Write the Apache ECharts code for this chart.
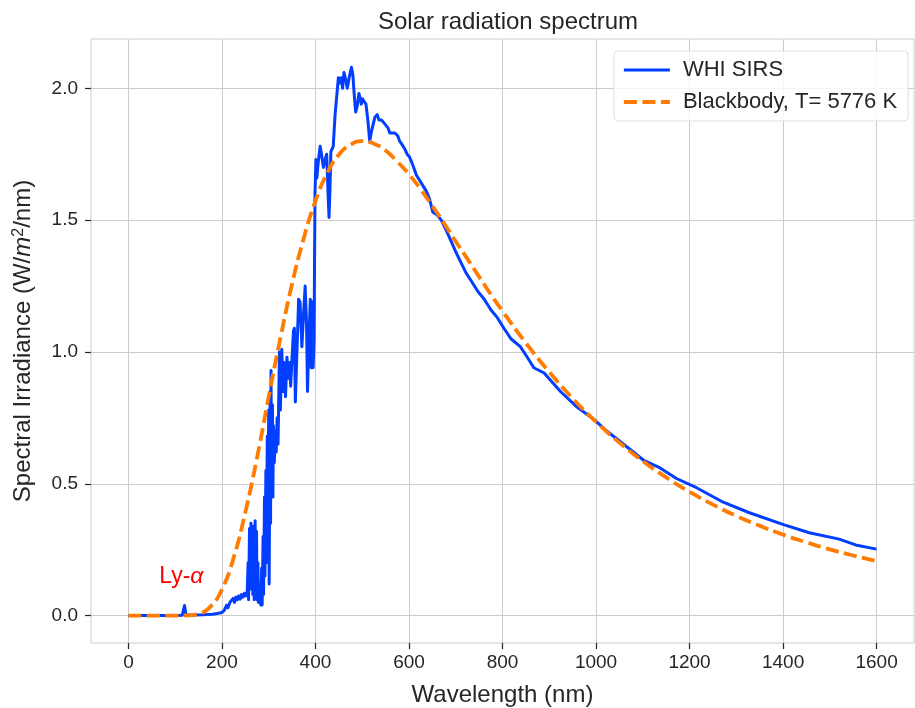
<!DOCTYPE html>
<html>
<head>
<meta charset="utf-8">
<script src="https://cdn.jsdelivr.net/npm/echarts@6/dist/echarts.min.js"></script>
<style>
html,body{margin:0;padding:0;background:#ffffff;}
#chart{width:915px;height:708px;}
</style>
</head>
<body>
<div id="chart"></div>
<script>
// Axis ticks
const xTicks = [0, 200, 400, 600, 800, 1000, 1200, 1400, 1600];
const yTicks = [0, 0.5, 1.0, 1.5, 2.0];

// Measured solar spectral irradiance (WHI SIRS), wavelength in nm
const whiNm = [
  0, 50, 100, 115, 119, 120, 122, 123, 140, 160, 180, 190, 200, 205, 210, 213, 217, 220,
  224, 227, 230, 233, 236, 239, 242, 245, 248, 251, 254, 256, 257, 259, 260, 262, 263, 265,
  266, 268, 269, 271, 272, 274, 275, 277, 278, 280, 282, 283, 285, 286, 288, 289, 291, 292,
  294, 295, 297, 298, 300, 301, 303, 304, 305, 306, 308, 309, 310, 312, 314, 316, 318, 320,
  323, 325, 328, 331, 333, 336, 339, 342, 345, 347, 350, 353, 355, 357, 360, 364, 367, 371,
  375, 378, 381, 383, 386, 389, 391, 393, 395, 397, 399, 401, 403, 406, 410, 413, 417, 421,
  424, 427, 429, 431, 433, 438, 442, 446, 449, 452, 455, 458, 461, 465, 468, 472, 477, 480,
  482, 484, 486, 489, 493, 496, 498, 501, 504, 508, 512, 516, 519, 523, 527, 532, 536, 541,
  546, 550, 555, 559, 565, 570, 576, 580, 584, 591, 596, 601, 608, 616, 623, 630, 637, 644,
  651, 660, 669, 680, 690, 700, 711, 722, 733, 747, 761, 775, 789, 803, 818, 838, 853, 867,
  889, 924, 960, 995, 1023, 1059, 1101, 1137, 1172, 1215, 1272, 1328, 1401, 1456, 1520, 1555, 1600
];
const whiVal = [
  0, 0, 0, 0.001, 0.001, 0.038, 0.038, 0.002, 0.002, 0.003, 0.005, 0.008, 0.012, 0.02, 0.04, 0.03, 0.05, 0.045,
  0.065, 0.05, 0.07, 0.06, 0.075, 0.062, 0.08, 0.07, 0.085, 0.075, 0.09, 0.2, 0.06, 0.33, 0.1, 0.35, 0.12, 0.3,
  0.08, 0.34, 0.06, 0.36, 0.1, 0.32, 0.06, 0.2, 0.05, 0.05, 0.12, 0.04, 0.18, 0.04, 0.3, 0.08, 0.45, 0.15,
  0.55, 0.2, 0.68, 0.3, 0.78, 0.12, 0.85, 0.35, 0.93, 0.5, 0.8, 0.45, 0.72, 0.58, 0.7, 0.62, 0.75, 0.65,
  1.0, 0.78, 1.01, 0.85, 0.96, 0.83, 0.98, 0.9, 0.96, 0.87, 0.98, 1.08, 1.09, 0.81, 0.98, 1.2, 1.19, 1.02,
  1.16, 1.25, 1.1, 0.85, 1.05, 1.2, 0.94, 1.19, 0.94, 1.05, 1.6, 1.73, 1.66, 1.72, 1.78, 1.75, 1.7, 1.73,
  1.75, 1.6, 1.51, 1.62, 1.76, 1.78, 1.9, 1.98, 2.04, 2.02, 2.04, 2.0, 2.06, 2.03, 2.0, 2.04, 2.08, 2.05,
  2.0, 1.95, 1.91, 1.93, 1.98, 1.96, 1.94, 1.96, 1.95, 1.94, 1.88, 1.8, 1.83, 1.86, 1.89, 1.9, 1.88, 1.88,
  1.87, 1.87, 1.85, 1.83, 1.83, 1.83, 1.82, 1.8, 1.79, 1.77, 1.75, 1.74, 1.71, 1.67, 1.65, 1.63, 1.61, 1.58,
  1.53, 1.52, 1.5, 1.46, 1.42, 1.38, 1.34, 1.3, 1.27, 1.23, 1.2, 1.16, 1.13, 1.09, 1.05, 1.02, 0.98, 0.94,
  0.92, 0.85, 0.79, 0.745, 0.7, 0.65, 0.59, 0.56, 0.52, 0.485, 0.43, 0.39, 0.345, 0.314, 0.29, 0.268, 0.252
];

// Blackbody curve, T = 5776 K
const bbNm = [
  0, 50, 100, 125, 150, 175, 200, 225, 250, 275, 300, 325, 350, 375, 400, 425, 450, 475, 500,
  525, 550, 575, 600, 625, 650, 675, 700, 725, 750, 775, 800, 850, 900, 950, 1000, 1050, 1100,
  1150, 1200, 1250, 1300, 1350, 1400, 1450, 1500, 1550, 1600
];
const bbVal = [
  0, 0, 0, 0.0006, 0.0066, 0.033, 0.099, 0.219, 0.392, 0.598, 0.83, 1.052, 1.258, 1.431, 1.573, 1.678, 1.748, 1.786, 1.8,
  1.79, 1.764, 1.722, 1.674, 1.617, 1.554, 1.488, 1.419, 1.353, 1.285, 1.218, 1.155, 1.034, 0.924, 0.824, 0.735, 0.656, 0.586,
  0.524, 0.469, 0.421, 0.378, 0.341, 0.307, 0.278, 0.251, 0.228, 0.207
];

// Lyman-alpha annotation anchor (nm, W/m^2/nm)
const lyAlphaAt = [66, 0.148];

const FONT = "'Liberation Sans', Arial, Helvetica, sans-serif";
const INK = '#262626';
const GRIDC = '#cccccc';
const CLEAR = 'rgba(0,0,0,0)';
const BLUE = '#023eff';
const ORANGE = '#ff7c00';
const DASH = [13, 5.5];

const pairs = (xs, ys) => xs.map((x, i) => [x, ys[i]]);

const chart = echarts.init(document.getElementById('chart'), null, { renderer: 'canvas' });

chart.setOption({
  animation: false,
  backgroundColor: '#ffffff',
  textStyle: { fontFamily: FONT },
  title: {
    text: 'Solar radiation spectrum',
    left: 503,
    textAlign: 'center',
    top: 5,
    textStyle: { fontFamily: FONT, fontSize: 24, fontWeight: 'normal', color: INK }
  },
  grid: {
    left: 91, top: 39, width: 823, height: 604,
    outerBoundsMode: 'none',
    containLabel: false,
    show: true, borderColor: GRIDC, borderWidth: 1, backgroundColor: 'transparent'
  },
  legend: {
    orient: 'vertical',
    left: 614, top: 51,
    padding: [8, 11, 8, 8],
    itemGap: 10,
    itemWidth: 46, itemHeight: 16,
    backgroundColor: 'rgba(255,255,255,0.8)',
    borderColor: '#dddddd', borderWidth: 1, borderRadius: 4,
    itemStyle: { color: CLEAR, borderColor: CLEAR, borderWidth: 0 },
    textStyle: { fontFamily: FONT, fontSize: 22, color: INK, padding: [0, 0, 0, 8] },
    data: [
      { name: 'WHI SIRS', lineStyle: { color: BLUE, width: 3 } },
      { name: 'Blackbody, T= 5776 K', lineStyle: { color: ORANGE, width: 3.8, type: DASH } }
    ]
  },
  xAxis: {
    type: 'value',
    min: -80, max: 1680,
    name: 'Wavelength (nm)',
    nameLocation: 'middle',
    nameGap: 40,
    nameTextStyle: { fontFamily: FONT, fontSize: 24, color: INK },
    axisLine: { show: false, onZero: false },
    axisTick: { show: true, customValues: xTicks, length: 6, lineStyle: { color: INK, width: 1.2 } },
    axisLabel: {
      customValues: xTicks, fontFamily: FONT, fontSize: 19, color: INK, margin: 10,
      formatter: v => String(v)
    },
    splitLine: { show: true, lineStyle: { color: GRIDC, width: 1 } }
  },
  yAxis: {
    type: 'value',
    min: -0.104, max: 2.187,
    name: '{n|Spectral Irradiance (W/}{i|m}{s|2}{n|/nm)}',
    nameLocation: 'middle',
    nameGap: 55,
    nameTextStyle: {
      fontFamily: FONT, fontSize: 24, color: INK,
      rich: {
        n: { fontFamily: FONT, fontSize: 24, color: INK },
        i: { fontFamily: FONT, fontSize: 24, color: INK, fontStyle: 'italic' },
        s: { fontFamily: FONT, fontSize: 16, color: INK, verticalAlign: 'top', padding: [0, 0, 9, 0] }
      }
    },
    axisLine: { show: false, onZero: false },
    axisTick: { show: true, customValues: yTicks, length: 6, lineStyle: { color: INK, width: 1.2 } },
    axisLabel: {
      customValues: yTicks, fontFamily: FONT, fontSize: 19, color: INK, margin: 13,
      formatter: v => v.toFixed(1)
    },
    splitLine: { show: true, lineStyle: { color: GRIDC, width: 1 } }
  },
  series: [
    {
      name: 'WHI SIRS',
      type: 'line',
      data: pairs(whiNm, whiVal),
      showSymbol: false,
      symbol: 'none',
      lineStyle: { color: BLUE, width: 3, join: 'round' },
      itemStyle: { color: BLUE },
      z: 3,
      markPoint: {
        symbol: 'circle', symbolSize: 0,
        silent: true,
        data: [{ coord: lyAlphaAt }],
        label: {
          show: true,
          position: 'right',
          distance: 0,
          formatter: '{a|Ly-}{b|α}',
          rich: {
            a: { fontFamily: FONT, fontSize: 23, color: '#ff0000' },
            b: { fontFamily: FONT, fontSize: 23, color: '#ff0000', fontStyle: 'italic' }
          }
        }
      }
    },
    {
      name: 'Blackbody, T= 5776 K',
      type: 'line',
      data: pairs(bbNm, bbVal),
      showSymbol: false,
      symbol: 'none',
      smooth: 0.5,
      lineStyle: { color: ORANGE, width: 3.8, type: DASH, cap: 'butt' },
      itemStyle: { color: ORANGE },
      z: 4
    }
  ]
});
</script>
</body>
</html>
